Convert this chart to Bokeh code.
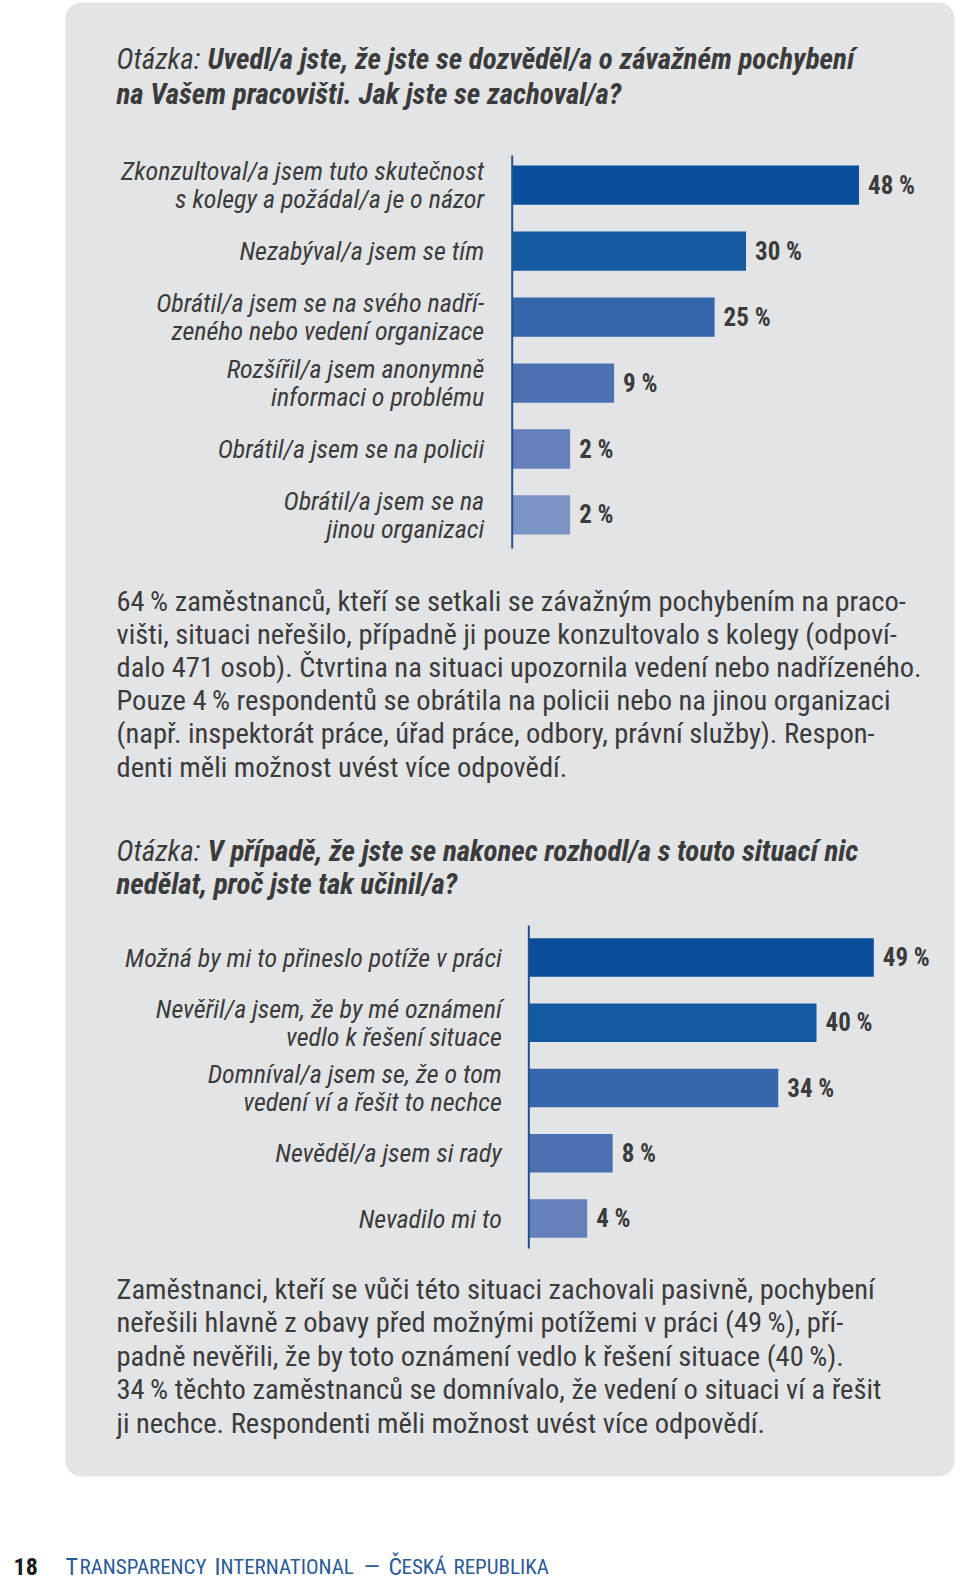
from bokeh.plotting import figure
from bokeh.models import Range1d, BoxAnnotation
from bokeh.core.properties import value
from bokeh.embed import file_html
from bokeh.resources import INLINE

# ---------------- data ----------------
categories_1 = [
    "Zkonzultoval/a jsem tuto skutečnost\ns kolegy a požádal/a je o názor",
    "Nezabýval/a jsem se tím",
    "Obrátil/a jsem se na svého nadří-\nzeného nebo vedení organizace",
    "Rozšířil/a jsem anonymně\ninformaci o problému",
    "Obrátil/a jsem se na policii",
    "Obrátil/a jsem se na\njinou organizaci",
]
values_1 = [48, 30, 25, 9, 2, 2]
colors_1 = ["#0b4f9a", "#155ba2", "#3566aa", "#4a70b1", "#6680bb", "#7b93c5"]

categories_2 = [
    "Možná by mi to přineslo potíže v práci",
    "Nevěřil/a jsem, že by mé oznámení\nvedlo k řešení situace",
    "Domníval/a jsem se, že o tom\nvedení ví a řešit to nechce",
    "Nevěděl/a jsem si rady",
    "Nevadilo mi to",
]
values_2 = [49, 40, 34, 8, 4]
colors_2 = ["#0b4f9a", "#155ba2", "#3566aa", "#4a70b1", "#6680bb"]

question_label = "Otázka:"
question_1 = ["Uvedl/a jste, že jste se dozvěděl/a o závažném pochybení",
              "na Vašem pracovišti. Jak jste se zachoval/a?"]
question_2 = ["V případě, že jste se nakonec rozhodl/a s touto situací nic",
              "nedělat, proč jste tak učinil/a?"]

paragraph_1 = [
    "64\u2009% zaměstnanců, kteří se setkali se závažným pochybením na praco-",
    "višti, situaci neřešilo, případně ji pouze konzultovalo s kolegy (odpoví-",
    "dalo 471 osob). Čtvrtina na situaci upozornila vedení nebo nadřízeného.",
    "Pouze 4\u2009% respondentů se obrátila na policii nebo na jinou organizaci",
    "(např. inspektorát práce, úřad práce, odbory, právní služby). Respon-",
    "denti měli možnost uvést více odpovědí.",
]
paragraph_2 = [
    "Zaměstnanci, kteří se vůči této situaci zachovali pasivně, pochybení",
    "neřešili hlavně z obavy před možnými potížemi v práci (49\u2009%), pří-",
    "padně nevěřili, že by toto oznámení vedlo k řešení situace (40\u2009%).",
    "34\u2009% těchto zaměstnanců se domnívalo, že vedení o situaci ví a řešit",
    "ji nechce. Respondenti měli možnost uvést více odpovědí.",
]

page_number = "18"
footer_parts = [("T", True), ("RANSPARENCY", False), ("I", True), ("NTERNATIONAL", False),
                ("—", True), ("Č", True), ("ESKÁ", False), ("REPUBLIKA", False)]

# ---------------- style ----------------
W, H = 960, 1581
FONT = value("Roboto Condensed, Noto Sans Condensed, DejaVu Sans Condensed, Roboto")
TEXT = "#3b3b3b"
PANEL = "#e3e4e6"
AXIS = "#22528f"
FOOT = "#2b5a97"

p = figure(width=W, height=H, x_range=Range1d(0, W), y_range=Range1d(H, 0),
           output_backend="svg", toolbar_location=None, min_border=0)
p.axis.visible = False
p.grid.visible = False
p.outline_line_color = None
p.background_fill_color = "white"
p.border_fill_color = "white"

p.add_layout(BoxAnnotation(left=65, right=954, top=2, bottom=1476, fill_color=PANEL,
                           fill_alpha=1.0, line_color=None, border_radius=16,
                           level="underlay"))

xr, yr = {}, {}


def bar_chart(key, cats, vals, colors, zero_px, px_per_pct, first_px, step_px,
              bar_px, axis_top_px, axis_bottom_px, base, label_gap, value_gap):
    xr[key + "x"] = Range1d(start=(0 - zero_px) / px_per_pct, end=(W - zero_px) / px_per_pct)
    yr[key + "y"] = Range1d(start=(H - first_px) / step_px, end=(0 - first_px) / step_px)
    p.extra_x_ranges = dict(xr)
    p.extra_y_ranges = dict(yr)
    kw = dict(x_range_name=key + "x", y_range_name=key + "y")
    idx = list(range(len(cats)))
    p.hbar(y=idx, left=base, right=vals, height=bar_px / step_px,
           fill_color=colors, line_color=None, **kw)
    p.segment(x0=[base], x1=[base],
              y0=[(axis_top_px - first_px) / step_px],
              y1=[(axis_bottom_px - first_px) / step_px],
              line_color=AXIS, line_width=2, **kw)
    p.text(x=[base] * len(cats), y=idx, text=cats, x_offset=-label_gap,
           text_align="right", text_baseline="middle", text_font=FONT,
           text_font_style="italic", text_font_size="26px", text_line_height=0.95,
           text_color=TEXT, **kw)
    p.text(x=vals, y=idx, text=[f"{v} %" for v in vals], x_offset=value_gap,
           text_align="left", text_baseline="middle", text_font=FONT,
           text_font_style="bold", text_font_size="25px", text_color=TEXT, **kw)


bar_chart("c1", categories_1, values_1, colors_1, zero_px=557.1, px_per_pct=6.28,
          first_px=184.7, step_px=65.95, bar_px=39.3, axis_top_px=155,
          axis_bottom_px=548, base=-7.23, label_gap=28, value_gap=9)
bar_chart("c2", categories_2, values_2, colors_2, zero_px=561.2, px_per_pct=6.37,
          first_px=957.0, step_px=65.25, bar_px=38.5, axis_top_px=925,
          axis_bottom_px=1248, base=-5.16, label_gap=27, value_gap=9)


def question(lines, y0, step, bold_x):
    p.text(x=[116], y=[y0], text=[question_label], text_font=FONT,
           text_font_style="italic", text_font_size="29px", text_color=TEXT,
           text_baseline="middle")
    p.text(x=[bold_x, 116], y=[y0, y0 + step], text=lines, text_font=FONT,
           text_font_style="bold italic", text_font_size="29px", text_color=TEXT,
           text_baseline="middle")


question(question_1, 58.5, 34.5, 207)
question(question_2, 850, 33.5, 207)


def paragraph(lines, y0, step):
    p.text(x=[116] * len(lines), y=[y0 + k * step for k in range(len(lines))],
           text=lines, text_font=FONT, text_font_size="28.5px", text_color=TEXT,
           text_baseline="middle")


paragraph(paragraph_1, 601, 33.1)
paragraph(paragraph_2, 1288.7, 33.55)

# footer
FOOT_BASE = 1566
p.text(x=[13], y=[FOOT_BASE], text=[page_number], text_font=FONT, text_font_style="bold",
       text_font_size="24px", text_color="#1a1a1a", text_baseline="alphabetic")
foot_x = [65, 79, 214, 220, 363, 388, 401, 453]
for (t, big), fx in zip(footer_parts, foot_x):
    p.text(x=[fx], y=[FOOT_BASE], text=[t], text_font=FONT,
           text_font_size="24px" if big else "21px", text_color=FOOT,
           text_baseline="alphabetic")

open("out.html", "w").write(file_html(p, INLINE))
